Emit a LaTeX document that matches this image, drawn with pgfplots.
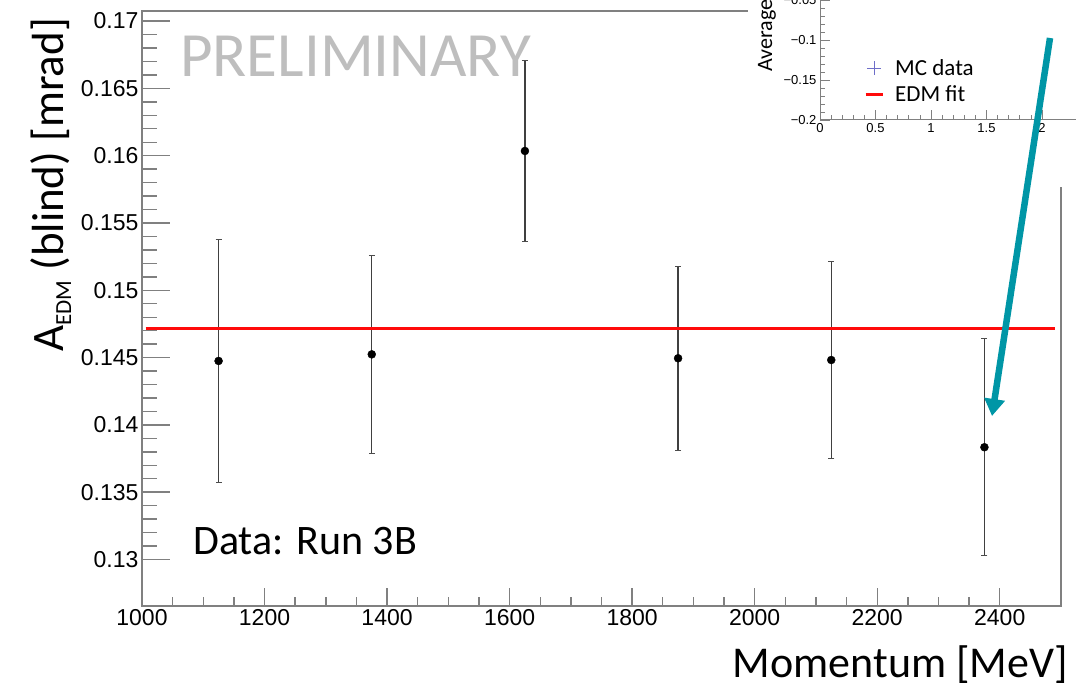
\documentclass[border=0pt]{standalone}
\usepackage{fontspec}
\setmainfont{Carlito}
\newfontfamily\arialfont{Liberation Sans}
\usepackage{pgfplots}
\pgfplotsset{compat=1.18}
\usetikzlibrary{arrows.meta}
\definecolor{framegray}{RGB}{128,128,128}
\definecolor{teal1}{RGB}{0,150,166}
\definecolor{prelim}{RGB}{190,190,190}
\definecolor{mcblue}{RGB}{110,110,200}
\definecolor{fitred}{RGB}{255,10,10}
\begin{document}
\begin{tikzpicture}[x=1pt,y=1pt]
\pgfplotsset{
  mainbase/.style={at={(142pt,86pt)}, anchor=south west, scale only axis,
    width=919pt, height=595pt, xmin=1000, xmax=2500, ymin=0.126545, ymax=0.17075,
    tick align=inside, tick pos=left,
    /pgf/number format/assume math mode=true,
    tick label style={font=\arialfont\fontsize{23}{23}\selectfont, text=black},
    tick style={framegray, line width=1.4pt}},
}
% x ticks (separate axis for different tick length)
\begin{axis}[mainbase, axis line style={draw=none}, ytick=\empty,
  xtick={1000,1200,1400,1600,1800,2000,2200,2400}, minor x tick num=3,
  major tick length=18pt, minor tick length=9pt,
  xticklabel style={/pgf/number format/.cd, set thousands separator={}}]
\end{axis}
% main axis
\begin{axis}[mainbase, axis line style={framegray, line width=1.7pt}, xtick=\empty,
  ytick={0.13,0.135,0.14,0.145,0.15,0.155,0.16,0.165,0.17}, minor y tick num=4,
  major tick length=28pt, minor tick length=15pt,
  yticklabel style={/pgf/number format/.cd, fixed, precision=3}]
\addplot[only marks, mark=*, mark size=4pt, black,
  error bars/.cd, y dir=both, y explicit,
  error bar style={line width=1.3pt, color=black!75},
  error mark options={rotate=90, mark size=3pt, line width=1pt, black!70}]
  coordinates {
  (1125,0.14475) +- (0,0.00900)
  (1375,0.14524) +- (0,0.00735)
  (1625,0.16035) +- (0,0.00675)
  (1875,0.14495) +- (0,0.00685)
  (2125,0.14482) +- (0,0.00734)
  (2375,0.13834) +- (0,0.00808)
  };
\addplot[fitred, line width=3pt] coordinates {(1006,0.14717) (2491,0.14717)};
\end{axis}
% texts
\node[anchor=base west, inner sep=0, text=prelim, font=\fontsize{63}{63}\selectfont] at (180pt,615pt) {PRELIMINARY};
\node[anchor=base west, inner sep=0, font=\fontsize{42}{42}\selectfont] at (193pt,137pt) {Data: Run 3B};
\node[anchor=base east, inner sep=0, font=\fontsize{44}{44}\selectfont] at (1068pt,14pt) {Momentum [MeV]};
\node[rotate=90, anchor=base west, inner sep=0, font=\fontsize{45}{45}\selectfont] at (63pt,340pt)
  {A\raisebox{-0.18em}{\fontsize{23}{23}\selectfont EDM} (blind) [mrad]};
% inset
\fill[white] (748pt,505pt) rectangle (1080pt,700pt);
\begin{axis}[at={(820pt,572pt)}, anchor=south west, scale only axis,
  width=256pt, height=132pt, xmin=0, xmax=2.306, ymin=-0.2, ymax=-0.035,
  axis x line=bottom, axis y line=left, axis line style={-, framegray, line width=1pt},
  xtick={0,0.5,1,1.5,2}, xticklabels={0,0.5,1,1.5,2}, minor x tick num=4,
  ytick={-0.2,-0.15,-0.1,-0.05}, yticklabels={−0.2,−0.15,−0.1,−0.05}, minor y tick num=4,
  tick align=inside, major tick length=10pt, minor tick length=5pt,
  tick style={framegray, line width=0.8pt},
  tick label style={font=\arialfont\fontsize{13}{13}\selectfont, text=black},
  legend style={draw=none, fill=none, font=\fontsize{23}{23}\selectfont,
    at={(0.16,0.49)}, anchor=north west, row sep=5pt,
    /tikz/every odd column/.append style={column sep=9pt}},
  legend cell align=left]
\addlegendimage{only marks, mark=+, mark size=7pt, draw=mcblue, mark options={draw=mcblue, line width=0.8pt}}
\addlegendentry{MC data}
\addlegendimage{fitred, line width=3pt}
\addlegendentry{EDM fit}
\end{axis}
\node[rotate=90, anchor=base west, inner sep=0, font=\fontsize{22}{22}\selectfont] at (772pt,620pt) {Average};
% arrow
\draw[teal1, line width=6.5pt, -{Triangle[width=20pt, length=17pt]}] (1050pt,654pt) -- (992pt,276pt);
\pgfresetboundingbox
\useasboundingbox (0,0) rectangle (1076pt,692pt);
\end{tikzpicture}
\end{document}
